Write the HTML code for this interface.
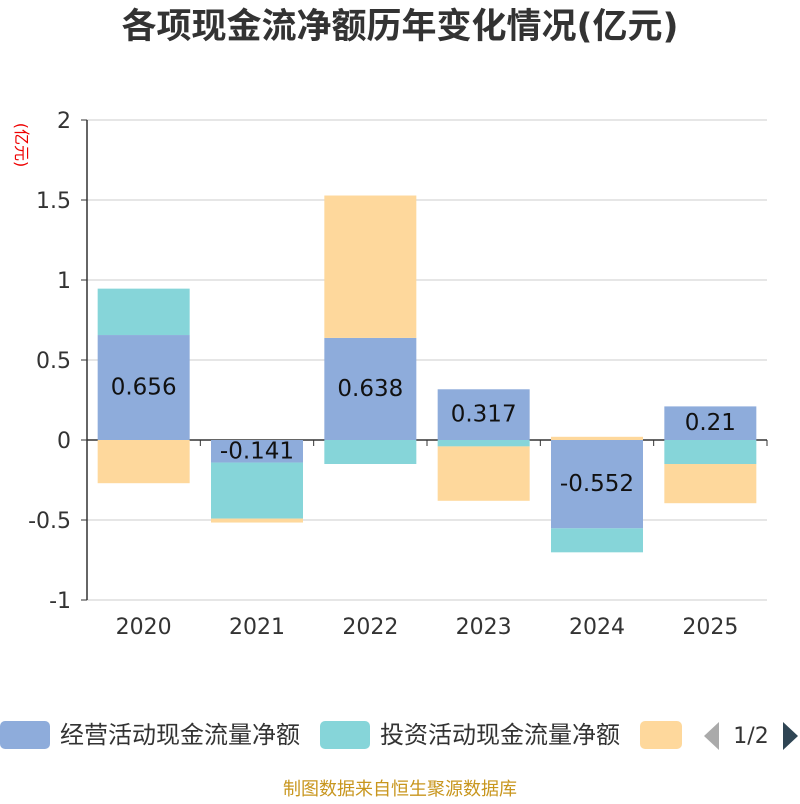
<!DOCTYPE html>
<html><head><meta charset="utf-8"><style>
body{margin:0;background:#fff;font-family:"DejaVu Sans","Noto Sans CJK SC",sans-serif}
</style></head><body>
<svg id="chart" width="800" height="800" xmlns="http://www.w3.org/2000/svg" font-family="DejaVu Sans, Noto Sans CJK SC, sans-serif">
<text x="400" y="38" text-anchor="middle" font-size="35" font-weight="bold" fill="#333">各项现金流净额历年变化情况(亿元)</text>
<text transform="translate(16,145) rotate(90)" text-anchor="middle" font-size="16" fill="#e00">(亿元)</text>
<g id="grid"></g><g id="bars"></g><g id="axes"></g>
<g>
<rect x="0" y="721" width="50" height="28" rx="5" fill="#8eacdb"/>
<text x="60" y="743" font-size="24" fill="#333">经营活动现金流量净额</text>
<rect x="320" y="721" width="50" height="28" rx="5" fill="#86d5d9"/>
<text x="380" y="743" font-size="24" fill="#333">投资活动现金流量净额</text>
<rect x="640" y="721" width="42" height="28" rx="5" fill="#fed89c"/>
<polygon points="719,722 719,750 704,736" fill="#aaa"/>
<text x="751" y="743" text-anchor="middle" font-size="22" fill="#333">1/2</text>
<polygon points="783,722 783,750 798,736" fill="#2f4554"/>
</g>
<text x="400" y="795" text-anchor="middle" font-size="18" fill="#c8961e">制图数据来自恒生聚源数据库</text>
</svg>
<script>
const categories=["2020","2021","2022","2023","2024","2025"];
const operating=[0.656,-0.141,0.638,0.317,-0.552,0.21];
const investing=[0.29,-0.35,-0.15,-0.04,-0.15,-0.15];
const financing=[-0.27,-0.025,0.89,-0.34,0.02,-0.245];
const yTicks=[2,1.5,1,0.5,0,-0.5,-1];
const NS="http://www.w3.org/2000/svg";
const x0=87,x1=767,yTop=120,yBot=600,vMax=2,vMin=-1;
const y=v=>yTop+(vMax-v)/(vMax-vMin)*(yBot-yTop);
const band=(x1-x0)/categories.length;
const cx=i=>x0+band*(i+0.5);
function mk(tag,attrs,parent){const e=document.createElementNS(NS,tag);for(const k in attrs)e.setAttribute(k,attrs[k]);document.getElementById(parent).appendChild(e);return e;}
yTicks.forEach(t=>{
 const l=mk('line',{x1:x0,x2:x1,y1:y(t),y2:y(t),stroke:t===0?'#333':'#ccc','stroke-width':t===0?1.5:1},'grid');
 
 
 const tx=mk('text',{x:x0-16,y:y(t)+8,'text-anchor':'end','font-size':22,fill:'#333'},'axes');
 tx.textContent=t;
 
 
 const tk=mk('line',{x1:x0-6,x2:x0,y1:y(t),y2:y(t),stroke:'#333'},'axes');
 
 
});
const ax=mk('line',{x1:x0,x2:x0,y1:yTop,y2:yBot,stroke:'#333','stroke-width':1.5},'axes');


const bw=92;
const series=[[operating,'#8eacdb','operating'],[investing,'#86d5d9','investing'],[financing,'#fed89c','financing']];
categories.forEach((c,i)=>{
 let pos=0,neg=0;
 series.forEach(([d,col,nm])=>{
  const v=d[i];let a,b;
  if(v>=0){a=pos;b=pos+v;pos=b;}else{a=neg;b=neg+v;neg=b;}
  const r=mk('rect',{x:cx(i)-bw/2,width:bw,y:Math.min(y(a),y(b)),height:Math.abs(y(a)-y(b)),fill:col},'bars');
  
  
 });
 const v=operating[i];
 const lt=mk('text',{x:cx(i),y:(y(0)+y(v))/2+7,'text-anchor':'middle','font-size':23,fill:'#111'},'bars');
 lt.textContent=v;
 
 
 const xt=mk('text',{x:cx(i),y:634,'text-anchor':'middle','font-size':22,fill:'#333'},'axes');
 xt.textContent=c;
 
 
 const tk=mk('line',{x1:x0+band*(i+1),x2:x0+band*(i+1),y1:y(0),y2:y(0)+6,stroke:'#333'},'axes');
 
 
});
</script>
</body></html>
